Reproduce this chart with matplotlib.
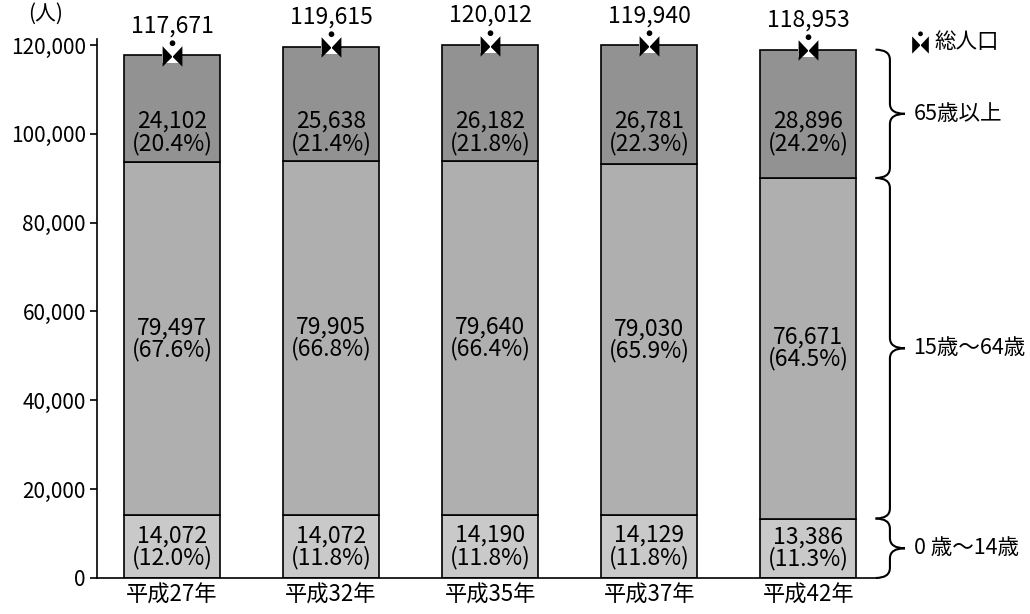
import matplotlib
matplotlib.use("Agg")
import matplotlib.pyplot as plt
import numpy as np
from matplotlib.path import Path
from matplotlib.patches import PathPatch
from matplotlib.transforms import blended_transform_factory

plt.rcParams['font.family'] = ['Noto Sans CJK JP', 'DejaVu Sans']

# データ
years = ['平成27年', '平成32年', '平成35年', '平成37年', '平成42年']
age_0_14 = [14072, 14072, 14190, 14129, 13386]
age_15_64 = [79497, 79905, 79640, 79030, 76671]
age_65 = [24102, 25638, 26182, 26781, 28896]
pct_0_14 = [12.0, 11.8, 11.8, 11.8, 11.3]
pct_15_64 = [67.6, 66.8, 66.4, 65.9, 64.5]
pct_65 = [20.4, 21.4, 21.8, 22.3, 24.2]
totals = [117671, 119615, 120012, 119940, 118953]
group_names = ['0 歳～14歳', '15歳～64歳', '65歳以上']

fig = plt.figure(figsize=(10.3, 6.14), dpi=100)
ax = fig.add_axes([97/1030, 36/614, (875-97)/1030, (578-39)/614])

x = np.arange(len(years))
w = 0.6
a = np.array(age_0_14)
b = np.array(age_15_64)
c = np.array(age_65)

ax.bar(x, a, w, color='#c9c9c9', edgecolor='black', linewidth=1.2)
ax.bar(x, b, w, bottom=a, color='#afafaf', edgecolor='black', linewidth=1.2)
ax.bar(x, c, w, bottom=a+b, color='#929292', edgecolor='black', linewidth=1.2)

fs = 16.5
for i in range(len(x)):
    ax.text(x[i], a[i]/2, f"{a[i]:,}\n({pct_0_14[i]:.1f}%)", ha='center', va='center',
            fontsize=fs, linespacing=0.92)
    ax.text(x[i], a[i]+b[i]/2, f"{b[i]:,}\n({pct_15_64[i]:.1f}%)", ha='center', va='center',
            fontsize=fs, linespacing=0.92)
    ax.text(x[i], 100300, f"{c[i]:,}\n({pct_65[i]:.1f}%)", ha='center', va='center',
            fontsize=fs, linespacing=0.92)
    ax.annotate(f"{totals[i]:,}", (x[i], totals[i]), xytext=(0, 13), textcoords='offset points',
                ha='center', va='bottom', fontsize=fs, annotation_clip=False)

# 総人口マーカー（人型アイコン）
t = np.linspace(0, 2*np.pi, 13)
head = list(zip(0.22*np.cos(t), 0.78 + 0.22*np.sin(t)))
icon_path = Path([(-0.75, 0.55), (0, -0.25), (-0.75, -1), (-0.75, 0.55),
                  (0.75, 0.55), (0, -0.25), (0.75, -1), (0.75, 0.55)] + head,
                 [Path.MOVETO, Path.LINETO, Path.LINETO, Path.CLOSEPOLY,
                  Path.MOVETO, Path.LINETO, Path.LINETO, Path.CLOSEPOLY]
                 + [Path.MOVETO] + [Path.LINETO]*11 + [Path.CLOSEPOLY])

def icon(xs, ys, trans, size):
    kw = dict(transform=trans, clip_on=False, ls='none')
    ax.plot(xs, ys, marker='s', color='white', ms=size*0.75, mew=0, zorder=5, **kw)
    ax.plot(xs, ys, marker=icon_path, color='black', ms=size, mew=0, zorder=6, **kw)

icon(x, np.array(totals) + 500, ax.transData, 19)

ax.set_xlim(-0.472, 4.42)
ax.set_ylim(0, 121350)
ax.set_yticks(np.arange(0, 120001, 20000))
ax.set_yticklabels([f"{v:,}" for v in range(0, 120001, 20000)], fontsize=15)
ax.set_xticks(x)
ax.set_xticklabels(years, fontsize=16)
ax.tick_params(axis='x', length=0, pad=4)
ax.tick_params(axis='y', direction='out', length=5, width=1.2, pad=3)
ax.spines['top'].set_visible(False)
ax.spines['right'].set_visible(False)
ax.spines['left'].set_linewidth(1.2)
ax.spines['bottom'].set_linewidth(1.2)

fig.text(28/1030, 1-14/614, '(人)', fontsize=15, va='center', ha='left')

# 中括弧
tr = blended_transform_factory(fig.transFigure, ax.transData)

def brace(y0, y1, label):
    x0, d, tip, h = 0.864, 0.014, 0.0146, 2300
    ym = (y0 + y1) / 2
    verts = [(x0-d, y1), (x0, y1), (x0, y1-h), (x0, ym+h), (x0, ym), (x0+tip, ym),
             (x0, ym), (x0, ym-h), (x0, y0+h), (x0, y0), (x0-d, y0)]
    codes = [Path.MOVETO, Path.CURVE3, Path.CURVE3, Path.LINETO, Path.CURVE3, Path.CURVE3,
             Path.CURVE3, Path.CURVE3, Path.LINETO, Path.CURVE3, Path.CURVE3]
    ax.add_patch(PathPatch(Path(verts, codes), fill=False, lw=1.5, transform=tr, clip_on=False))
    ax.text(0.887, ym, label, transform=tr, fontsize=15.5, va='center', ha='left')

last = len(x) - 1
brace(0, a[last], group_names[0])
brace(a[last], a[last]+b[last], group_names[1])
brace(a[last]+b[last], totals[last], group_names[2])

# 凡例
icon([920/1030], [1-42/614], fig.transFigure, 16)
fig.text(934/1030, 1-42/614, '総人口', fontsize=15.5, va='center', ha='left')

fig.savefig('out.png', dpi=100)
